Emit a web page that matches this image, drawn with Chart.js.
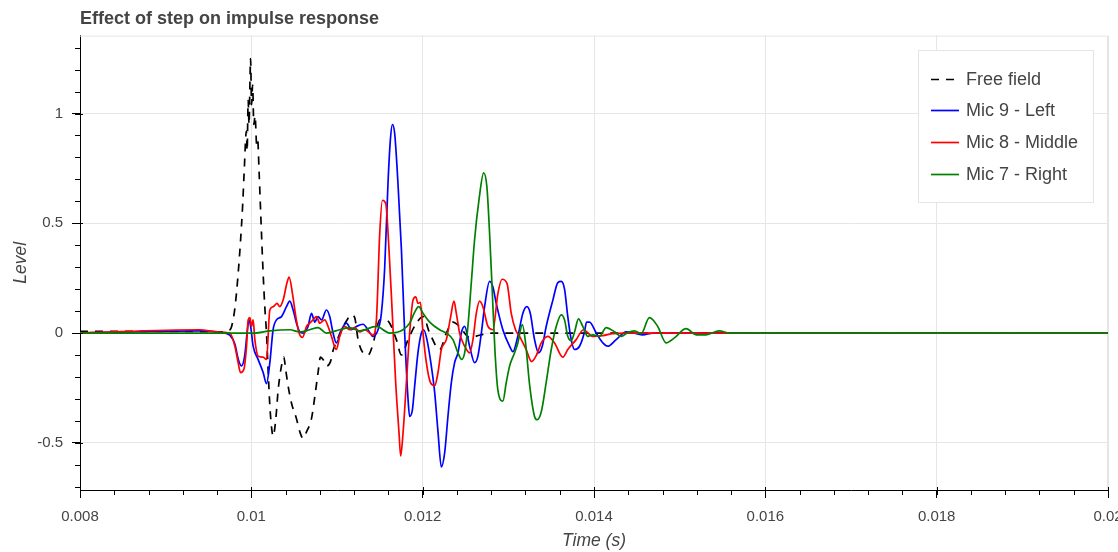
<!DOCTYPE html>
<html>
<head>
<meta charset="utf-8">
<script src="https://cdn.jsdelivr.net/npm/chart.js@4.4.1/dist/chart.umd.min.js"></script>
<style>
  html, body { margin: 0; padding: 0; overflow: hidden; background: #fff; }
  #wrap { position: relative; width: 1123px; height: 552px; }
</style>
</head>
<body>
<div id="wrap"><canvas id="impulseChart" width="1123" height="552"></canvas></div>
<script>
// axis ticks
const timeTicks = [0.008, 0.01, 0.012, 0.014, 0.016, 0.018, 0.02];
const levelTicks = [-0.5, 0, 0.5, 1];
const minorTimeStep = 0.0004;
const minorLevelStep = 0.1;

// Free field (black dashed)
const freeTime = [0.008, 0.0092, 0.00969, 0.00974, 0.00977, 0.00981, 0.009846, 0.009874, 0.009897, 0.009916,
  0.009942, 0.009951, 0.009963, 0.009973, 0.009991, 0.010003, 0.010015, 0.010029, 0.010044, 0.010062,
  0.010074, 0.010091, 0.010107, 0.010122, 0.010138, 0.010157, 0.010177, 0.010196, 0.010216, 0.010236,
  0.010254, 0.010286, 0.010313, 0.010352, 0.010379, 0.010402, 0.010429, 0.010469, 0.010527, 0.010566,
  0.010604, 0.010644, 0.010702, 0.010741, 0.010779, 0.010807, 0.010837, 0.010877, 0.010924, 0.010954,
  0.010993, 0.011052, 0.01111, 0.011168, 0.011207, 0.011246, 0.011304, 0.011362, 0.01142, 0.01146,
  0.011499, 0.011557, 0.011615, 0.011693, 0.011752, 0.011829, 0.011927, 0.012004, 0.012082, 0.012198,
  0.012276, 0.012353, 0.012431, 0.012548, 0.012665, 0.012781, 0.02];
const freeLevel = [0.008, 0.008, 0.005, 0.01, 0.03, 0.12, 0.27, 0.42, 0.57, 0.73,
  0.92, 0.83, 1.06, 0.95, 1.25, 1.04, 1.13, 0.95, 0.99, 0.86,
  0.88, 0.73, 0.57, 0.42, 0.27, 0.12, 0.0, -0.17, -0.33, -0.43,
  -0.47, -0.39, -0.26, -0.15, -0.11, -0.17, -0.24, -0.32, -0.39, -0.45,
  -0.48, -0.45, -0.39, -0.29, -0.18, -0.11, -0.12, -0.15, -0.13, -0.08,
  -0.04, 0.015, 0.055, 0.083, 0.07, -0.03, -0.09, -0.1, -0.05, 0.015,
  0.06, 0.06, 0.045, -0.03, -0.1, -0.03, 0.045, 0.075, 0, -0.075,
  0, 0.05, 0.03, -0.02, -0.01, 0, 0];

// Mic 9 - Left (blue)
const leftTime = [0.008, 0.0094, 0.0096, 0.009691, 0.009749, 0.009808, 0.009848, 0.009886, 0.009924, 0.009954,
  0.009974, 0.009994, 0.010021, 0.010079, 0.010138, 0.010177, 0.010216, 0.010254, 0.010294, 0.010352,
  0.01041, 0.010449, 0.010488, 0.010527, 0.010566, 0.010604, 0.010662, 0.010702, 0.010741, 0.010779,
  0.010819, 0.010877, 0.010915, 0.010954, 0.010993, 0.011052, 0.01111, 0.011168, 0.011227, 0.011304,
  0.011362, 0.01142, 0.011479, 0.011518, 0.011557, 0.011595, 0.011623, 0.011647, 0.011673, 0.011712,
  0.011752, 0.01179, 0.011829, 0.011848, 0.01188, 0.011907, 0.011945, 0.011985, 0.012012, 0.01205,
  0.012101, 0.01214, 0.012179, 0.012218, 0.012257, 0.012295, 0.012335, 0.012373, 0.012412, 0.012451,
  0.01249, 0.012548, 0.012606, 0.012645, 0.012685, 0.012723, 0.012781, 0.01282, 0.012859, 0.012936,
  0.013015, 0.013053, 0.013111, 0.01317, 0.013216, 0.013256, 0.013306, 0.013353, 0.013396, 0.013442,
  0.01352, 0.013578, 0.013617, 0.013656, 0.013694, 0.013734, 0.013773, 0.013831, 0.013889, 0.013913,
  0.013948, 0.014026, 0.014103, 0.014161, 0.014259, 0.014375, 0.014472, 0.014569, 0.014686, 0.02];
const leftLevel = [0, 0.01, 0.005, 0, -0.01, -0.05, -0.12, -0.15, -0.1, 0.015,
  0.06, 0.025, -0.06, -0.12, -0.18, -0.23, -0.135, 0.015, 0.06, 0.075,
  0.12, 0.145, 0.105, 0.045, 0.005, 0, 0.03, 0.09, 0.05, 0.075,
  0.06, 0.105, 0.075, 0, -0.045, 0.015, 0.045, 0.015, 0.03, 0.04,
  0.015, -0.015, 0.015, 0.09, 0.3, 0.68, 0.88, 0.95, 0.91, 0.68,
  0.38, 0, -0.3, -0.38, -0.35, -0.24, -0.09, 0, 0.015, -0.03,
  -0.15, -0.27, -0.45, -0.61, -0.545, -0.38, -0.225, -0.135, -0.09, 0,
  0.03, -0.06, -0.135, -0.105, 0, 0.12, 0.235, 0.21, 0.135, 0.015,
  -0.06, -0.085, -0.015, 0.09, 0.12, 0.09, -0.03, -0.09, -0.06, 0.03,
  0.15, 0.23, 0.235, 0.2, 0.075, -0.03, -0.075, -0.06, 0.005, 0.05,
  0.05, 0, -0.045, -0.06, -0.03, 0.005, 0, -0.008, 0, 0];

// Mic 8 - Middle (red)
const middleTime = [0.008, 0.0094, 0.0096, 0.009749, 0.009808, 0.009846, 0.009874, 0.009913, 0.009944, 0.009963,
  0.009983, 0.010002, 0.010021, 0.010041, 0.010079, 0.010138, 0.010177, 0.010216, 0.010254, 0.010301,
  0.010332, 0.010371, 0.010417, 0.010441, 0.01048, 0.010519, 0.010557, 0.010597, 0.010644, 0.010682,
  0.010721, 0.01076, 0.010799, 0.010857, 0.010896, 0.010935, 0.010993, 0.011032, 0.01109, 0.011149,
  0.011207, 0.011265, 0.011324, 0.011382, 0.01142, 0.01146, 0.011499, 0.01153, 0.011569, 0.011607,
  0.011647, 0.011685, 0.011724, 0.011743, 0.011771, 0.01181, 0.011848, 0.011887, 0.011919, 0.011945,
  0.011973, 0.012004, 0.012043, 0.01209, 0.01214, 0.012179, 0.012218, 0.012276, 0.012327, 0.012365,
  0.012393, 0.012431, 0.01249, 0.012548, 0.012587, 0.012626, 0.012665, 0.012703, 0.012762, 0.01282,
  0.012878, 0.012927, 0.012985, 0.013034, 0.013084, 0.013131, 0.013208, 0.013271, 0.013329, 0.013384,
  0.013461, 0.013539, 0.013636, 0.013694, 0.013792, 0.013877, 0.013986, 0.014103, 0.014219, 0.014356, 0.02];
const middleLevel = [0, 0.015, 0.005, 0, -0.06, -0.135, -0.18, -0.165, -0.06, 0.06,
  0.07, 0.03, 0.06, -0.03, -0.105, -0.11, -0.12, 0.105, 0.12, 0.135,
  0.12, 0.15, 0.23, 0.255, 0.18, 0.075, 0, -0.02, 0.03, 0.045,
  0.06, 0.075, 0.045, 0.06, 0.03, -0.015, -0.075, -0.015, 0.03, 0.015,
  0.025, 0.005, 0.015, 0, -0.01, 0.06, 0.455, 0.605, 0.59, 0.38,
  0.075, -0.225, -0.455, -0.56, -0.455, -0.225, 0, 0.15, 0.165, 0.135,
  0.14, 0, -0.135, -0.225, -0.24, -0.18, -0.075, -0.03, 0.075, 0.145,
  0.09, 0, -0.06, -0.09, -0.03, 0.09, 0.145, 0.12, 0.03, 0.015,
  0.18, 0.245, 0.225, 0.09, 0.015, -0.015, -0.075, -0.13, -0.1, -0.045,
  -0.015, -0.045, -0.11, -0.075, -0.03, 0.015, -0.015, -0.012, -0.003, 0, 0];

// Mic 7 - Right (green)
const rightTime = [0.008, 0.010041, 0.010216, 0.010449, 0.010566, 0.010682, 0.010779, 0.010877, 0.011032, 0.011149,
  0.011265, 0.01146, 0.011615, 0.011771, 0.011848, 0.011907, 0.011953, 0.012004, 0.012082, 0.012198,
  0.012276, 0.012353, 0.012412, 0.012455, 0.01249, 0.012528, 0.012568, 0.012606, 0.012657, 0.012712,
  0.01275, 0.012781, 0.012813, 0.012843, 0.012878, 0.012936, 0.012976, 0.013015, 0.013073, 0.013111,
  0.013163, 0.013201, 0.013248, 0.013306, 0.013337, 0.013384, 0.013442, 0.013501, 0.013559, 0.013617,
  0.013656, 0.013694, 0.013734, 0.013773, 0.013819, 0.013869, 0.013928, 0.013986, 0.014064, 0.014142,
  0.014239, 0.014317, 0.014394, 0.014472, 0.01455, 0.014647, 0.014744, 0.014842, 0.014939, 0.015075,
  0.015192, 0.015308, 0.015463, 0.01558, 0.02];
const rightLevel = [0, 0, 0.01, 0.015, 0.005, 0.015, 0.025, 0, 0.015, 0.025,
  0.01, 0.03, 0, 0.015, 0.045, 0.095, 0.12, 0.09, 0.05, 0.015,
  0, -0.03, -0.09, -0.12, -0.09, 0.03, 0.23, 0.425, 0.605, 0.73,
  0.665, 0.455, 0.185, -0.075, -0.26, -0.31, -0.225, -0.15, -0.09, -0.045,
  0.038, -0.045, -0.235, -0.38, -0.395, -0.36, -0.225, -0.075, 0.03, 0.083,
  0.06, -0.015, -0.035, 0.005, 0.065, 0.03, -0.015, -0.008, -0.015, 0.025,
  0.006, -0.015, 0.002, 0.01, -0.003, 0.07, 0.03, -0.045, -0.022, 0.02,
  -0.008, -0.008, 0.01, 0, 0];

const fontFamily = '"Liberation Sans", Arial, Helvetica, sans-serif';
const textColor = '#444444';

const toPoints = (times, levels) => times.map((t, i) => ({ x: t, y: levels[i] }));
const fmt = v => String(Math.round(v * 10000) / 10000);

// light frame outline plus minor / inner ticks
const frameTicks = {
  id: 'frameTicks',
  beforeDatasetsDraw(chart) {
    const { ctx, chartArea: a } = chart;
    ctx.save();
    ctx.strokeStyle = '#e5e5e5';
    ctx.lineWidth = 1;
    ctx.beginPath();
    ctx.moveTo(a.left, a.top + 0.5);
    ctx.lineTo(a.right - 0.5, a.top + 0.5);
    ctx.lineTo(a.right - 0.5, a.bottom);
    ctx.stroke();
    ctx.restore();
  },
  afterDraw(chart) {
    const { ctx, chartArea: a, scales: { x, y } } = chart;
    ctx.save();
    ctx.strokeStyle = '#000';
    ctx.lineWidth = 1;
    ctx.beginPath();
    for (let v = x.min; v <= x.max + 1e-9; v += minorTimeStep) {
      const px = Math.round(x.getPixelForValue(v)) + 0.5;
      ctx.moveTo(px, a.bottom);
      ctx.lineTo(px, a.bottom + 5);
    }
    timeTicks.forEach(v => {
      const px = Math.round(x.getPixelForValue(v)) + 0.5;
      ctx.moveTo(px, a.bottom - 3);
      ctx.lineTo(px, a.bottom);
    });
    for (let v = -0.7; v <= y.max; v += minorLevelStep) {
      const py = Math.round(y.getPixelForValue(v)) + 0.5;
      ctx.moveTo(a.left - 5, py);
      ctx.lineTo(a.left, py);
    }
    levelTicks.forEach(v => {
      const py = Math.round(y.getPixelForValue(v)) + 0.5;
      ctx.moveTo(a.left, py);
      ctx.lineTo(a.left + 3, py);
    });
    ctx.stroke();
    ctx.restore();
  }
};

// legend box inside the plot, top right
const legendBox = {
  id: 'legendBox',
  afterDraw(chart) {
    const { ctx, chartArea: a } = chart;
    const items = chart.data.datasets;
    ctx.save();
    ctx.font = '18px ' + fontFamily;
    const textW = Math.max(...items.map(d => ctx.measureText(d.label).width));
    const w = Math.round(48 + textW + 15);
    const rowH = 31.7;
    const h = Math.round(28.5 * 2 + rowH * (items.length - 1));
    const left = Math.round(a.right - 15 - w);
    const top = Math.round(a.top + 14);
    ctx.fillStyle = 'rgba(255,255,255,0.95)';
    ctx.fillRect(left, top, w, h);
    ctx.strokeStyle = '#e5e5e5';
    ctx.lineWidth = 1;
    ctx.strokeRect(left + 0.5, top + 0.5, w, h);
    items.forEach((d, i) => {
      const yy = Math.round(top + 28.5 + i * rowH) + 0.5;
      ctx.strokeStyle = d.borderColor;
      ctx.lineWidth = d.borderWidth;
      ctx.setLineDash(d.borderDash || []);
      ctx.beginPath();
      ctx.moveTo(left + 13, yy);
      ctx.lineTo(left + 41, yy);
      ctx.stroke();
      ctx.setLineDash([]);
      ctx.fillStyle = textColor;
      ctx.textBaseline = 'middle';
      ctx.textAlign = 'left';
      ctx.fillText(d.label, left + 48, yy + 1);
    });
    ctx.restore();
  }
};

new Chart(document.getElementById('impulseChart'), {
  type: 'line',
  data: {
    datasets: [
      {
        label: 'Free field',
        data: toPoints(freeTime, freeLevel),
        borderColor: '#000000',
        borderDash: [8, 7],
        borderWidth: 1.7,
        order: 4
      },
      {
        label: 'Mic 9 - Left',
        data: toPoints(leftTime, leftLevel),
        borderColor: '#0000ff',
        borderWidth: 1.7,
        order: 3
      },
      {
        label: 'Mic 8 - Middle',
        data: toPoints(middleTime, middleLevel),
        borderColor: '#ff0000',
        borderWidth: 1.7,
        order: 2
      },
      {
        label: 'Mic 7 - Right',
        data: toPoints(rightTime, rightLevel),
        borderColor: '#008000',
        borderWidth: 1.7,
        order: 1
      }
    ]
  },
  options: {
    responsive: false,
    animation: false,
    layout: { padding: { left: 0, top: 0, bottom: 0, right: 15 } },
    elements: {
      point: { radius: 0 },
      line: { cubicInterpolationMode: 'monotone', fill: false }
    },
    plugins: {
      legend: { display: false },
      tooltip: { enabled: false },
      title: {
        display: true,
        text: 'Effect of step on impulse response',
        align: 'start',
        fullSize: false,
        color: textColor,
        font: { family: fontFamily, size: 18, weight: 'bold' },
        padding: { top: 8, bottom: 6 }
      }
    },
    scales: {
      x: {
        type: 'linear',
        min: 0.008,
        max: 0.02,
        afterBuildTicks: s => { s.ticks = timeTicks.map(v => ({ value: v })); },
        afterFit: s => { s.height = 62; s.paddingRight = 0; s.paddingLeft = 0; },
        ticks: {
          color: textColor,
          font: { family: fontFamily, size: 15 },
          padding: 10,
          maxRotation: 0,
          autoSkip: false,
          callback: v => fmt(v)
        },
        grid: { color: '#e6e6e6', tickColor: '#000', tickLength: 8 },
        border: { color: '#000', width: 1 },
        title: {
          display: true,
          text: 'Time (s)',
          color: textColor,
          font: { family: fontFamily, size: 17.5, style: 'italic' },
          padding: { top: 0, bottom: 0 }
        }
      },
      y: {
        min: -0.715,
        max: 1.355,
        afterBuildTicks: s => { s.ticks = levelTicks.map(v => ({ value: v })); },
        afterFit: s => { s.width = 80; },
        ticks: {
          color: textColor,
          font: { family: fontFamily, size: 15 },
          padding: 9,
          autoSkip: false,
          callback: v => fmt(v)
        },
        grid: { color: '#e6e6e6', tickColor: '#000', tickLength: 8 },
        border: { color: '#000', width: 1 },
        title: {
          display: true,
          text: 'Level',
          color: textColor,
          font: { family: fontFamily, size: 17.5, style: 'italic' },
          padding: { top: 11, bottom: 0 }
        }
      }
    }
  },
  plugins: [frameTicks, legendBox]
});
</script>
</body>
</html>
